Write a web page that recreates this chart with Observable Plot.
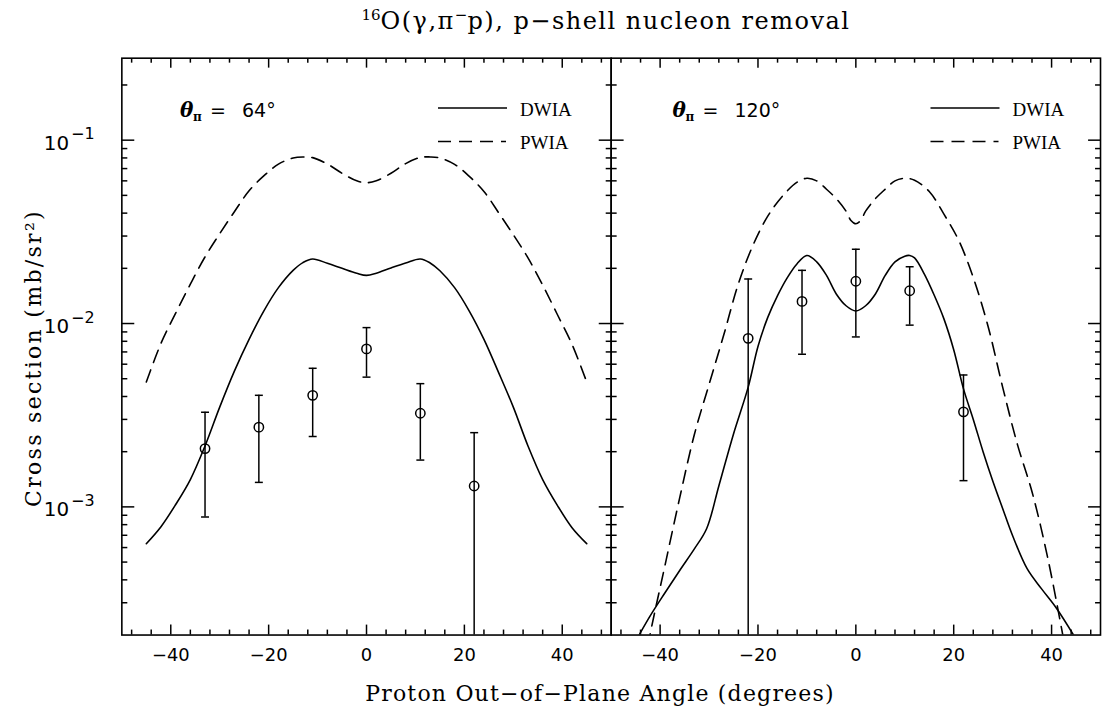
<!DOCTYPE html>
<html>
<head>
<meta charset="utf-8">
<script src="https://cdn.jsdelivr.net/npm/d3@7"></script>
<script src="https://cdn.jsdelivr.net/npm/@observablehq/plot@0.6"></script>
<style>
  html, body { margin: 0; padding: 0; background: #fff; overflow: hidden; }
  #fig { position: relative; width: 1104px; height: 715px; overflow: hidden; background: #fff; }
  #title { position: absolute; z-index: 3; left: 0; top: 6px; width: 1212px; text-align: center;
           font-family: "DejaVu Serif"; font-size: 24px; letter-spacing: 1.5px; color: #000; white-space: nowrap; }
  #title sup { font-size: 15px; letter-spacing: 0; }
  #xlabel { position: absolute; z-index: 3; left: 0; top: 681px; width: 1200px; text-align: center;
            font-family: "DejaVu Serif"; font-size: 22px; letter-spacing: 1.2px; color: #000; white-space: nowrap; }
  #fig svg.plot { position: absolute; left: 0; top: 0; z-index: 1; }
  #overlay { position: absolute; left: 0; top: 0; z-index: 2; pointer-events: none; }
</style>
</head>
<body>
<div id="fig">
  <div id="title"><sup>16</sup>O(γ,π<sup>−</sup>p), p−shell nucleon removal</div>
  <div id="xlabel">Proton Out−of−Plane Angle (degrees)</div>
</div>
<script>
// ---------------- data ----------------
const panelKeys = ["64", "120"];
const panelAngleLabels = ["64°", "120°"];
const legendLabels = ["DWIA", "PWIA"];
const yTitle = "Cross section (mb/sr²)";

// theta_pi = 64 deg : DWIA (solid)
const dwia64Angle = [-45, -42, -39, -36, -33, -30, -27, -24, -21, -18, -15, -13, -11, -8, -5, -2, 0, 2, 5, 8, 11, 13, 15, 18, 21, 24, 27, 30, 33, 36, 39, 42, 45];
const dwia64Sigma = [6.3e-4, 7.8e-4, 1.03e-3, 1.41e-3, 2.15e-3, 3.5e-3, 5.5e-3, 8.2e-3, 0.0117, 0.0157, 0.0195, 0.0215, 0.0225, 0.0213, 0.0200, 0.0188, 0.0183, 0.0188, 0.0201, 0.0214, 0.0225, 0.0214, 0.0194, 0.0157, 0.0117, 0.0082, 0.0054, 0.0035, 0.00215, 0.00141, 1.02e-3, 7.7e-4, 6.3e-4];
// theta_pi = 64 deg : PWIA (dashed)
const pwia64Angle = [-45, -42, -39, -36, -33, -30, -27, -24, -21, -18, -15, -13, -11, -8, -5, -2, 0, 2, 5, 8, 11, 13, 15, 18, 21, 24, 27, 30, 33, 36, 39, 42, 45];
const pwia64Sigma = [4.8e-3, 7.8e-3, 0.0114, 0.0164, 0.0231, 0.0309, 0.0407, 0.053, 0.0638, 0.074, 0.080, 0.081, 0.0803, 0.0741, 0.066, 0.060, 0.0586, 0.060, 0.066, 0.0745, 0.0805, 0.081, 0.080, 0.0738, 0.0635, 0.0525, 0.0402, 0.0305, 0.0228, 0.0162, 0.0112, 7.7e-3, 4.8e-3];

// theta_pi = 120 deg : DWIA (solid)
const dwia120Angle = [-45, -42, -39, -36, -33, -30.5, -28, -25, -22, -20, -18, -16, -14, -12, -10, -8, -6, -4, -2, 0, 2, 4, 6, 8, 10, 11, 12, 14, 16, 18, 20, 22, 24, 26, 28, 30, 32, 35, 38, 41, 45];
const dwia120Sigma = [1.85e-4, 2.55e-4, 3.4e-4, 4.5e-4, 5.9e-4, 7.6e-4, 1.3e-3, 2.5e-3, 4.5e-3, 7.5e-3, 0.0108, 0.0142, 0.0178, 0.0212, 0.0235, 0.0217, 0.0183, 0.0145, 0.0125, 0.0117, 0.0125, 0.0145, 0.0183, 0.0217, 0.0233, 0.0235, 0.0228, 0.0186, 0.0143, 0.0106, 0.0072, 0.0044, 3.0e-3, 2.0e-3, 1.38e-3, 9.8e-4, 7.0e-4, 4.6e-4, 3.56e-4, 2.8e-4, 1.9e-4];
// theta_pi = 120 deg : PWIA (dashed)
const pwia120Angle = [-45, -42, -39, -36, -33, -30, -27, -24, -21, -18, -15, -12, -10, -8, -6, -4, -2, -1, 0, 1, 2, 4, 6, 8, 10, 12, 15, 18, 21, 24, 27, 30, 33, 36, 39, 42, 45];
const pwia120Sigma = [8e-5, 2.05e-4, 4.8e-4, 1.12e-3, 2.48e-3, 4.65e-3, 8.65e-3, 0.0165, 0.0268, 0.0385, 0.0495, 0.059, 0.062, 0.060, 0.054, 0.048, 0.041, 0.0365, 0.035, 0.0365, 0.041, 0.048, 0.054, 0.060, 0.062, 0.0605, 0.0525, 0.0395, 0.0285, 0.0178, 9.7e-3, 4.5e-3, 2.2e-3, 1.21e-3, 5.6e-4, 2.2e-4, 8e-5];

// measured points with error bars
const data64Angle = [-33, -22, -11, 0, 11, 22];
const data64Sigma = [2.08e-3, 2.72e-3, 4.06e-3, 7.27e-3, 3.24e-3, 1.30e-3];
const data64Lo    = [8.8e-4, 1.36e-3, 2.42e-3, 5.1e-3, 1.80e-3, 1e-5];
const data64Hi    = [3.28e-3, 4.06e-3, 5.7e-3, 9.5e-3, 4.70e-3, 2.54e-3];

const data120Angle = [-22, -11, 0, 11, 22];
const data120Sigma = [8.3e-3, 1.32e-2, 1.70e-2, 1.51e-2, 3.30e-3];
const data120Lo    = [1e-5, 6.8e-3, 8.45e-3, 9.8e-3, 1.39e-3];
const data120Hi    = [1.75e-2, 1.95e-2, 2.54e-2, 2.04e-2, 5.24e-3];

// axis ticks
const yMajorTicks = [1e-3, 1e-2, 1e-1];
const yMajorExponents = ["−3", "−2", "−1"];
const yMinorTicks = [3e-4, 4e-4, 5e-4, 6e-4, 7e-4, 8e-4, 9e-4,
                     2e-3, 3e-3, 4e-3, 5e-3, 6e-3, 7e-3, 8e-3, 9e-3,
                     2e-2, 3e-2, 4e-2, 5e-2, 6e-2, 7e-2, 8e-2, 9e-2, 2e-1];
const xMajorTicks = [-40, -20, 0, 20, 40];
const xMinorTicks = [-48, -44, -36, -32, -28, -24, -16, -12, -8, -4, 4, 8, 12, 16, 24, 28, 32, 36, 44, 48];

// ---------------- tables ----------------
const rowsOf = (panel, angles, sigmas) => angles.map((a, i) => ({panel, angle: a, sigma: sigmas[i]}));
const dwia = [...rowsOf("64", dwia64Angle, dwia64Sigma), ...rowsOf("120", dwia120Angle, dwia120Sigma)];
const pwia = [...rowsOf("64", pwia64Angle, pwia64Sigma), ...rowsOf("120", pwia120Angle, pwia120Sigma)];
const pointsOf = (panel, A, S, L, H) => A.map((a, i) => ({panel, angle: a, sigma: S[i], lo: L[i], hi: H[i]}));
const points = [...pointsOf("64", data64Angle, data64Sigma, data64Lo, data64Hi),
                ...pointsOf("120", data120Angle, data120Sigma, data120Lo, data120Hi)];
const yLabelRows = yMajorTicks.map((v, i) => ({panel: panelKeys[0], value: v, exp: yMajorExponents[i]}));

// ---------------- layout ----------------
const W = 1110, H = 715, mTop = 58, mBottom = 77, mLeft = 121, mRight = 4;
const facetW = (W - mLeft - mRight) / panelKeys.length;

const capSymbol = {
  draw(context, size) {
    const w = Math.sqrt(size / Math.PI);
    context.moveTo(-w, 0);
    context.lineTo(w, 0);
  }
};

const tickFmt = d => d < 0 ? "−" + Math.abs(d) : String(d);
const sw = 1.5;

const chart = Plot.plot({
  width: W, height: H,
  marginTop: mTop, marginBottom: mBottom, marginLeft: mLeft, marginRight: mRight,
  fx: {domain: panelKeys, padding: 0, axis: null},
  x: {domain: [-50, 50], axis: null},
  y: {type: "log", domain: [2e-4, 0.28], axis: null},
  style: {background: "white", color: "black", overflow: "visible"},
  marks: [
    // theory curves
    Plot.line(dwia, {fx: "panel", x: "angle", y: "sigma", curve: "catmull-rom", stroke: "black", strokeWidth: 1.6, clip: true}),
    Plot.line(pwia, {fx: "panel", x: "angle", y: "sigma", curve: "catmull-rom", stroke: "black", strokeWidth: 1.6, strokeDasharray: "13,8", clip: true}),
    // error bars
    Plot.ruleX(points, {fx: "panel", x: "angle", y1: "lo", y2: "hi", stroke: "black", strokeWidth: sw, clip: true}),
    Plot.dot(points, {fx: "panel", x: "angle", y: "hi", symbol: capSymbol, r: 4, stroke: "black", fill: "none", strokeWidth: sw, clip: true}),
    Plot.dot(points, {fx: "panel", x: "angle", y: "lo", symbol: capSymbol, r: 4, stroke: "black", fill: "none", strokeWidth: sw, clip: true}),
    Plot.dot(points, {fx: "panel", x: "angle", y: "sigma", r: 4.7, stroke: "black", fill: "none", strokeWidth: sw}),
    // inward ticks on all four sides of each panel
    Plot.axisY(yMajorTicks, {anchor: "left", tickSize: -13, fill: "none", strokeWidth: sw, facetAnchor: null}),
    Plot.axisY(yMajorTicks, {anchor: "right", tickSize: -13, fill: "none", strokeWidth: sw, facetAnchor: null}),
    Plot.axisY(yMinorTicks, {anchor: "left", tickSize: -6, fill: "none", strokeWidth: sw, facetAnchor: null}),
    Plot.axisY(yMinorTicks, {anchor: "right", tickSize: -6, fill: "none", strokeWidth: sw, facetAnchor: null}),
    Plot.axisX(xMajorTicks, {anchor: "bottom", tickSize: -10, fill: "none", strokeWidth: sw, facetAnchor: null}),
    Plot.axisX(xMajorTicks, {anchor: "top", tickSize: -9, fill: "none", strokeWidth: sw, facetAnchor: null}),
    Plot.axisX(xMinorTicks, {anchor: "bottom", tickSize: -5, fill: "none", strokeWidth: sw, facetAnchor: null}),
    Plot.axisX(xMinorTicks, {anchor: "top", tickSize: -4, fill: "none", strokeWidth: sw, facetAnchor: null}),
    // x tick labels
    Plot.axisX(xMajorTicks, {anchor: "bottom", tickSize: 0, tickPadding: 13, tickFormat: tickFmt, label: null,
                             fontSize: 18, fontFamily: "DejaVu Sans", facetAnchor: null}),
    // y tick labels (left panel only)
    Plot.text(yLabelRows, {fx: "panel", y: "value", text: () => "10", frameAnchor: "left", textAnchor: "end",
                           dx: -53, dy: 3, fontSize: 20, fontFamily: "DejaVu Sans"}),
    Plot.text(yLabelRows, {fx: "panel", y: "value", text: "exp", frameAnchor: "left", textAnchor: "start",
                           dx: -51, dy: -6, fontSize: 16, fontFamily: "DejaVu Sans"}),
    Plot.frame({stroke: "black", strokeWidth: 1.6})
  ]
});
chart.classList.add("plot");
document.getElementById("fig").appendChild(chart);

// ---------------- axis title, in-panel labels & legend ----------------
const ov = d3.select("#fig").append("svg").attr("id", "overlay").attr("width", 1104).attr("height", 715);
ov.append("text")
  .attr("transform", `translate(41,${mTop + (H - mTop - mBottom) / 2 + 10}) rotate(-90)`)
  .attr("text-anchor", "middle")
  .attr("font-family", "DejaVu Serif").attr("font-size", 22).attr("letter-spacing", 2.3)
  .text(yTitle);

panelKeys.forEach((key, i) => {
  const ox = mLeft + i * facetW;
  const g = ov.append("g").attr("transform", `translate(${ox},0)`);
  g.append("text").attr("x", 59).attr("y", 116.5).text("θ")
    .attr("font-family", "DejaVu Serif").attr("font-style", "italic").attr("font-weight", "bold").attr("font-size", 20);
  g.append("text").attr("x", 72).attr("y", 121).text("π")
    .attr("font-family", "DejaVu Serif").attr("font-weight", "bold").attr("font-size", 12);
  g.append("text").attr("x", 89).attr("y", 116.5).text("=")
    .attr("font-family", "DejaVu Sans").attr("font-size", 19);
  g.append("text").attr("x", 121).attr("y", 116.5).text(panelAngleLabels[i])
    .attr("font-family", "DejaVu Sans").attr("font-size", 19);
  // legend
  g.append("line").attr("x1", 317).attr("x2", 386).attr("y1", 108).attr("y2", 108)
    .attr("stroke", "black").attr("stroke-width", 1.6);
  g.append("line").attr("x1", 317).attr("x2", 385).attr("y1", 141.5).attr("y2", 141.5)
    .attr("stroke", "black").attr("stroke-width", 1.6).attr("stroke-dasharray", "13,8");
  legendLabels.forEach((lab, j) => {
    g.append("text").attr("x", 399).attr("y", j === 0 ? 115.5 : 149).text(lab)
      .attr("font-family", "Liberation Serif").attr("font-size", 19);
  });
});
</script>
</body>
</html>
